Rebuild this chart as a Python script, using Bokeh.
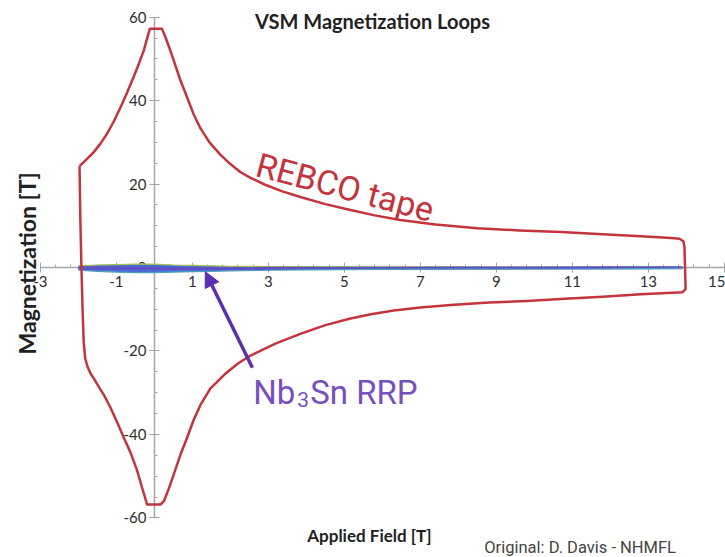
from bokeh.plotting import figure
from bokeh.models import (Range1d, LinearAxis, FixedTicker, Label, Arrow, NormalHead,
                          PrintfTickFormatter)
from bokeh.embed import file_html
from bokeh.resources import INLINE
import math

# ---- data ----
rebco_field = [-1.97, -1.80, -1.60, -1.42, -1.25, -1.07, -0.89, -0.72, -0.55, -0.41, -0.28,
               -0.18, -0.12, 0.20, 0.28, 0.40, 0.51, 0.68, 0.86, 1.03, 1.21, 1.45, 1.74,
               2.00, 2.26, 2.53, 2.90, 3.35, 3.84, 4.50, 5.16, 5.80, 6.47, 7.40, 8.50,
               9.60, 10.70, 11.80, 12.80, 13.60, 13.82, 13.92, 13.95, 13.98, 13.90,
               12.80, 11.80, 10.80, 9.80, 8.80, 7.80, 7.00, 6.30, 5.70, 5.16, 4.50, 3.84,
               3.20, 2.80, 2.53, 2.20, 1.85, 1.47, 1.21, 1.03, 0.86, 0.68, 0.51, 0.38,
               0.25, 0.16, -0.19, -0.30, -0.46, -0.63, -0.81, -0.98, -1.16, -1.32, -1.45,
               -1.58, -1.68, -1.76, -1.82, -1.86, -1.89, -1.92, -1.95, -1.97]
rebco_mag = [24.3, 25.8, 27.6, 29.7, 32.0, 35.0, 38.4, 41.9, 45.6, 48.8, 52.0,
             55.3, 57.2, 57.2, 55.5, 52.5, 49.6, 45.0, 40.8, 36.8, 33.4, 30.0, 27.0,
             24.8, 22.9, 21.5, 19.9, 18.3, 16.9, 15.2, 13.8, 12.5, 11.4, 10.3, 9.4,
             8.9, 8.5, 8.0, 7.5, 7.1, 6.9, 6.3, 5.0, -5.2, -5.9,
             -6.4, -7.0, -7.5, -8.0, -8.4, -9.0, -9.6, -10.3, -11.2, -12.2, -13.8, -15.9,
             -18.2, -19.9, -21.1, -23.0, -25.6, -29.0, -33.0, -36.6, -40.8, -45.0, -49.6, -53.0,
             -56.0, -56.8, -56.8, -53.5, -48.5, -44.3, -40.7, -37.1, -33.5, -30.7, -28.8,
             -26.8, -25.4, -23.8, -21.8, -18.0, -10.0, 0.0, 12.0, 24.3]

nb_field = [-2.0, -1.5, -1.0, -0.5, 0.0, 0.5, 1.0, 1.5, 2.0, 3.0, 4.0, 6.0, 8.0, 10.0, 12.0, 13.9]
nb_upper = [0.4, 0.6, 0.7, 0.8, 0.8, 0.6, 0.5, 0.4, 0.3, 0.25, 0.2, 0.15, 0.15, 0.1, 0.1, 0.05]
nb_lower = [-0.6, -0.9, -1.1, -1.2, -1.2, -1.1, -1.0, -0.9, -0.8, -0.65, -0.55, -0.45, -0.4, -0.35, -0.3, -0.2]
nb_mid = [-0.1, -0.15, -0.2, -0.2, -0.2, -0.25, -0.25, -0.25, -0.22, -0.2, -0.18, -0.15, -0.12, -0.1, -0.08, -0.05]

x_ticks = [-3, -1, 1, 3, 5, 7, 9, 11, 13, 15]
y_ticks = [-60, -40, -20, 0, 20, 40, 60]

RED = "#c4343c"
PURPLE_TXT = "#7650c0"
PURPLE_ARROW = "#5b2fb0"
AXIS_GREY = "#a6a6a6"

p = figure(width=725, height=557, output_backend="svg", toolbar_location=None,
           x_range=Range1d(-4.05, 15.03), y_range=Range1d(-69.5, 64.0),
           x_axis_location=None, y_axis_location=None, min_border=0)
p.outline_line_color = None
p.xgrid.visible = False
p.ygrid.visible = False
p.background_fill_color = "white"
p.border_fill_color = "white"

xaxis = LinearAxis(fixed_location=0, bounds=(-3, 15.03),
                   ticker=FixedTicker(ticks=x_ticks,
                                      minor_ticks=[-3 + 0.4 * i for i in range(46)]))
yaxis = LinearAxis(fixed_location=0, bounds=(-60, 60),
                   ticker=FixedTicker(ticks=y_ticks, minor_ticks=list(range(-60, 61, 5))))
for ax in (xaxis, yaxis):
    ax.formatter = PrintfTickFormatter(format="%d")
    ax.axis_line_color = AXIS_GREY
    ax.axis_line_width = 1.5
    ax.major_tick_line_color = AXIS_GREY
    ax.minor_tick_line_color = AXIS_GREY
    ax.major_tick_in = 5
    ax.major_tick_out = 5
    ax.minor_tick_in = 3
    ax.minor_tick_out = 0
    ax.major_label_text_font = "Lato"
    ax.major_label_text_font_size = "15px"
    ax.major_label_text_color = "#2e2e2e"
    ax.major_label_standoff = 3
    ax.level = "underlay"
p.add_layout(xaxis, "below")
p.add_layout(yaxis, "left")

# Nb3Sn RRP loop (thin band along the axis)
p.varea(x=nb_field, y1=nb_lower, y2=nb_upper, fill_color="#3f68d4", fill_alpha=0.95)
p.line(nb_field, nb_upper, line_color="#a9c04a", line_width=1.2)
p.line(nb_field, nb_mid, line_color="#5e4fc6", line_width=3)
p.line(nb_field, nb_lower, line_color="#4f9fb8", line_width=1.2)

# REBCO tape loop
p.line(rebco_field, rebco_mag, line_color=RED, line_width=2.5, line_join="round")

# annotations
p.add_layout(Label(x=5.74, y=59.0, text="VSM Magnetization Loops", text_font="Lato",
                   text_font_style="bold", text_font_size="20px", text_color="#222222",
                   text_align="center", text_baseline="middle"))
p.add_layout(Label(x=-3.34, y=1.0, text="Magnetization [T]", text_font="Lato",
                   text_font_style="bold", text_font_size="23px", text_color="#222222",
                   text_align="center", text_baseline="middle", angle=math.pi / 2))
p.add_layout(Label(x=5.66, y=-64.3, text="Applied Field [T]", text_font="Lato",
                   text_font_style="bold", text_font_size="17px", text_color="#222222",
                   text_align="center", text_baseline="middle"))
p.add_layout(Label(x=8.68, y=-67.0, text="Original: D. Davis - NHMFL", text_font="Roboto",
                   text_font_size="16.5px", text_color="#444444",
                   text_align="left", text_baseline="alphabetic"))
p.add_layout(Label(x=2.70, y=24.8, text="REBCO tape", text_font="Roboto",
                   text_font_size="34px", text_color=RED, angle=-0.257,
                   text_align="left", text_baseline="alphabetic"))

nb_x, nb_y = 2.6, -30.0
p.add_layout(Label(x=nb_x, y=nb_y, text="Nb", text_font="Roboto", text_font_size="33px",
                   text_color=PURPLE_TXT, text_baseline="alphabetic"))
p.add_layout(Label(x=nb_x, y=nb_y, x_offset=44, y_offset=-7, text="3", text_font="Roboto",
                   text_font_size="21px", text_color=PURPLE_TXT, text_baseline="alphabetic"))
p.add_layout(Label(x=nb_x, y=nb_y, x_offset=57, text="Sn RRP", text_font="Roboto",
                   text_font_size="33px", text_color=PURPLE_TXT, text_baseline="alphabetic"))

p.add_layout(Arrow(x_start=2.58, y_start=-24.0, x_end=1.34, y_end=-1.0,
                   line_color=PURPLE_ARROW, line_width=3.5,
                   end=NormalHead(size=15, fill_color=PURPLE_ARROW, line_color=PURPLE_ARROW)))

open("out.html", "w").write(file_html(p, INLINE))
